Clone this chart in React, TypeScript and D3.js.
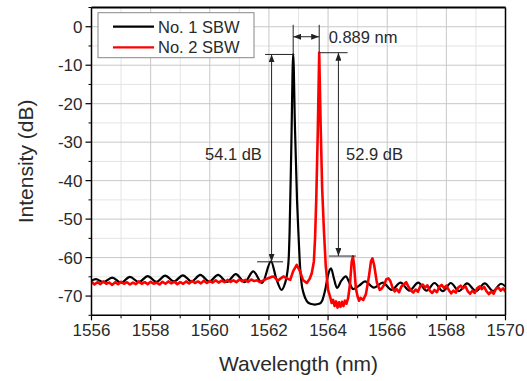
import React from 'react';
import * as d3 from 'd3';

const xMajorTicks = [1556, 1558, 1560, 1562, 1564, 1566, 1568, 1570];
const xMinorTicks = [1557, 1559, 1561, 1563, 1565, 1567, 1569];
const yMajorTicks = [0, -10, -20, -30, -40, -50, -60, -70];
const yMinorTicks = [5, -5, -15, -25, -35, -45, -55, -65, -75];
const seriesNames = ['No. 1 SBW', 'No. 2 SBW'];
const seriesColors = ['#000000', '#ff0000'];

const sbw1: [number, number][] = [
  [1556.0, -66.0], [1556.15, -65.6], [1556.4, -66.4], [1556.7, -65.2], [1557.0, -66.5],
  [1557.3, -65.0], [1557.6, -66.4], [1557.9, -64.8], [1558.2, -66.3], [1558.49, -64.7],
  [1558.79, -66.2], [1559.09, -64.6], [1559.38, -66.2], [1559.68, -64.5], [1559.98, -66.2],
  [1560.28, -64.5], [1560.58, -66.3], [1560.88, -64.3], [1561.18, -66.4], [1561.47, -63.6],
  [1561.77, -66.6], [1562.07, -61.0], [1562.25, -65.5], [1562.43, -68.4], [1562.53, -67.0],
  [1562.62, -64.0], [1562.67, -60.0], [1562.70, -53.0], [1562.76, -30.0], [1562.82, -7.1],
  [1562.88, -26.0], [1562.95, -45.0], [1563.0, -54.0], [1563.05, -62.0], [1563.1, -66.5],
  [1563.18, -69.5], [1563.28, -71.3], [1563.4, -72.0], [1563.55, -72.2], [1563.7, -72.0],
  [1563.8, -71.2], [1563.9, -68.5], [1564.0, -64.5], [1564.1, -62.8], [1564.2, -65.5],
  [1564.3, -67.9], [1564.45, -66.0], [1564.6, -64.9], [1564.72, -66.5], [1564.85, -68.2],
  [1565.05, -67.3], [1565.25, -66.2], [1565.55, -67.8], [1565.85, -66.5], [1566.15, -68.4],
  [1566.45, -66.5], [1566.75, -68.6], [1567.05, -66.5], [1567.33, -68.6], [1567.6, -66.6],
  [1567.88, -68.7], [1568.15, -66.6], [1568.43, -68.7], [1568.7, -66.7], [1569.0, -68.7],
  [1569.3, -66.7], [1569.58, -68.7], [1569.85, -66.8], [1570.0, -67.5],
];

const sbw2: [number, number][] = [
  [1556.0, -66.3], [1556.1, -67.0], [1556.2, -66.4], [1556.3, -66.9], [1556.4, -66.2],
  [1556.5, -66.8], [1556.6, -66.5], [1556.7, -67.1], [1556.8, -66.4], [1556.9, -66.9],
  [1557.0, -66.3], [1557.1, -66.8], [1557.2, -66.4], [1557.3, -67.0], [1557.4, -66.5],
  [1557.5, -66.9], [1557.6, -66.2], [1557.7, -66.8], [1557.8, -66.4], [1557.9, -66.9],
  [1558.0, -66.3], [1558.1, -66.8], [1558.2, -66.5], [1558.3, -67.0], [1558.4, -66.3],
  [1558.5, -66.8], [1558.6, -66.2], [1558.7, -66.7], [1558.8, -66.3], [1558.9, -66.9],
  [1559.0, -66.4], [1559.1, -66.8], [1559.2, -66.2], [1559.3, -66.7], [1559.4, -66.1],
  [1559.5, -66.6], [1559.6, -66.2], [1559.7, -66.7], [1559.8, -66.0], [1559.9, -66.6],
  [1560.0, -66.1], [1560.1, -66.5], [1560.2, -65.9], [1560.3, -66.5], [1560.4, -66.0],
  [1560.5, -66.4], [1560.6, -65.8], [1560.7, -66.3], [1560.8, -65.9], [1560.9, -66.4],
  [1561.0, -65.7], [1561.1, -66.2], [1561.2, -65.8], [1561.3, -66.3], [1561.4, -65.7],
  [1561.5, -66.1], [1561.6, -65.9], [1561.7, -66.4], [1561.8, -66.0], [1561.9, -65.6],
  [1562.0, -65.3], [1562.1, -65.0], [1562.15, -64.9], [1562.2, -65.2], [1562.3, -66.0],
  [1562.4, -65.4], [1562.49, -64.9], [1562.6, -65.4], [1562.72, -65.8], [1562.82, -63.5],
  [1562.94, -61.9], [1563.05, -63.5], [1563.15, -65.8], [1563.28, -66.6], [1563.38, -65.5],
  [1563.45, -64.0], [1563.52, -61.0], [1563.56, -55.0], [1563.60, -45.0], [1563.65, -28.0],
  [1563.70, -6.75], [1563.75, -26.0], [1563.80, -42.0], [1563.86, -53.0], [1563.92, -62.0],
  [1564.0, -68.4], [1564.08, -70.5], [1564.12, -71.8], [1564.17, -71.0], [1564.22, -72.6],
  [1564.27, -71.4], [1564.32, -73.0], [1564.37, -71.6], [1564.42, -72.8], [1564.47, -71.5],
  [1564.52, -72.6], [1564.57, -71.2], [1564.62, -72.0], [1564.68, -70.5], [1564.74, -67.0],
  [1564.8, -61.0], [1564.84, -59.7], [1564.88, -62.0], [1564.94, -68.0], [1565.0, -70.2],
  [1565.05, -71.2], [1565.1, -70.5], [1565.19, -71.0], [1565.28, -69.5], [1565.38, -65.0],
  [1565.45, -61.0], [1565.5, -60.2], [1565.56, -62.0], [1565.65, -66.5], [1565.75, -68.4],
  [1565.82, -68.0], [1565.9, -67.0], [1565.97, -65.6], [1566.04, -65.4], [1566.1, -66.0],
  [1566.18, -67.8], [1566.25, -68.8], [1566.32, -68.2], [1566.4, -69.0], [1566.48, -67.5],
  [1566.56, -67.0], [1566.64, -66.4], [1566.72, -67.6], [1566.8, -68.5], [1566.88, -69.1],
  [1566.96, -68.3], [1567.04, -68.9], [1567.12, -67.4], [1567.2, -67.0], [1567.28, -67.8],
  [1567.36, -67.2], [1567.44, -68.6], [1567.52, -69.2], [1567.6, -68.4], [1567.68, -69.0],
  [1567.76, -67.6], [1567.84, -67.1], [1567.92, -67.9], [1568.0, -67.3], [1568.08, -68.4],
  [1568.16, -69.3], [1568.24, -68.6], [1568.32, -69.1], [1568.4, -67.8], [1568.48, -67.3],
  [1568.56, -68.0], [1568.64, -67.4], [1568.72, -68.7], [1568.8, -69.4], [1568.88, -68.6],
  [1568.96, -69.2], [1569.04, -68.0], [1569.12, -67.5], [1569.2, -68.2], [1569.28, -67.6],
  [1569.36, -68.8], [1569.44, -69.5], [1569.52, -68.8], [1569.6, -69.4], [1569.68, -68.1],
  [1569.76, -67.8], [1569.84, -68.6], [1569.92, -68.0], [1570.0, -68.9],
];

// annotation values (data units)
const peakWavelengths = [1562.82, 1563.70];
const peakLevels = [-7.2, -6.75];
const floorLevels = [-61.1, -59.6];
const arrowWavelengths = [1562.09, 1564.35];
const topBarRanges: [number, number][] = [[1561.87, 1562.86], [1563.73, 1564.66]];
const floorBarRanges: [number, number][] = [[1561.6, 1562.48], [1564.03, 1564.94]];
const ratioLabels = ['54.1 dB', '52.9 dB'];
const ratioLabelPos: [number, number][] = [[1560.8, -33.1], [1565.57, -33.1]];
const spacingLabel = '0.889 nm';
const spacingLevel = -2.6;
const spacingTop = 0.5;
const spacingLabelWl = 1564.02;

const W = 527, H = 381;
const M = { left: 91.5, right: 505.5, top: 7.5, bottom: 315.3 };
const FONT = '"Liberation Sans", Arial, sans-serif';
const TXT = '#2a2a2a';

export default function App() {
  const x = d3.scaleLinear().domain([1556, 1570]).range([M.left, M.right]);
  const y = d3.scaleLinear().domain([-75, 5]).range([M.bottom, M.top]);
  const smooth = d3.line<[number, number]>().x(d => x(d[0])).y(d => y(d[1])).curve(d3.curveMonotoneX);
  const noisy = d3.line<[number, number]>().x(d => x(d[0])).y(d => y(d[1]));
  const annColor = '#222';

  return (
    <svg width={W} height={H} style={{ position: 'fixed', left: 0, top: 0, background: '#fff' }} fontFamily={FONT}>
      <defs>
        <marker id="ah" viewBox="0 0 8 6" refX="8" refY="3" markerWidth="8" markerHeight="6" markerUnits="userSpaceOnUse" orient="auto-start-reverse">
          <path d="M0,0 L8,3 L0,6 z" fill={annColor} />
        </marker>
        <clipPath id="plot">
          <rect x={M.left} y={M.top} width={M.right - M.left} height={M.bottom - M.top} />
        </clipPath>
      </defs>
      <rect x={0} y={0} width={W} height={H} fill="#fff" />
      {/* minor grid */}
      {xMinorTicks.map(t => (
        <line key={'xm' + t} x1={x(t)} x2={x(t)} y1={M.top} y2={M.bottom} stroke="#e4e4e4" strokeWidth={1} />
      ))}
      {yMinorTicks.map(t => (
        <line key={'ym' + t} x1={M.left} x2={M.right} y1={y(t)} y2={y(t)} stroke="#e4e4e4" strokeWidth={1} />
      ))}
      {/* major grid */}
      {xMajorTicks.map(t => (
        <line key={'xg' + t} x1={x(t)} x2={x(t)} y1={M.top} y2={M.bottom} stroke="#c8c8c8" strokeWidth={1} />
      ))}
      {yMajorTicks.map(t => (
        <line key={'yg' + t} x1={M.left} x2={M.right} y1={y(t)} y2={y(t)} stroke="#c8c8c8" strokeWidth={1} />
      ))}

      {/* data */}
      <g clipPath="url(#plot)">
        <path d={smooth(sbw1) || ''} fill="none" stroke={seriesColors[0]} strokeWidth={2.2} strokeLinejoin="round" />
        <path d={noisy(sbw2) || ''} fill="none" stroke={seriesColors[1]} strokeWidth={2.6} strokeLinejoin="round" />
      </g>

      {/* annotations */}
      <g stroke={annColor} strokeWidth={1} fill="none">
        {topBarRanges.map((r, i) => (
          <line key={'tb' + i} x1={x(r[0])} x2={x(r[1])} y1={y(peakLevels[i])} y2={y(peakLevels[i])} />
        ))}
        {floorBarRanges.map((r, i) => (
          <line key={'fb' + i} x1={x(r[0])} x2={x(r[1])} y1={y(floorLevels[i])} y2={y(floorLevels[i])} />
        ))}
        {arrowWavelengths.map((w, i) => (
          <line key={'va' + i} x1={x(w)} x2={x(w)} y1={y(peakLevels[i])} y2={y(floorLevels[i])}
            markerStart="url(#ah)" markerEnd="url(#ah)" />
        ))}
        {peakWavelengths.map((w, i) => (
          <line key={'sp' + i} x1={x(w)} x2={x(w)} y1={y(spacingTop)} y2={y(peakLevels[i])} />
        ))}
        <line x1={x(peakWavelengths[0])} x2={x(peakWavelengths[1])} y1={y(spacingLevel)} y2={y(spacingLevel)}
          markerStart="url(#ah)" markerEnd="url(#ah)" />
      </g>
      <g fontSize={16.5} fill={TXT}>
        {ratioLabels.map((t, i) => (
          <text key={'rl' + i} x={x(ratioLabelPos[i][0])} y={y(ratioLabelPos[i][1])} dy="0.36em" textAnchor="middle">{t}</text>
        ))}
        <text x={x(spacingLabelWl)} y={y(spacingLevel)} dy="0.36em">{spacingLabel}</text>
      </g>

      {/* frame */}
      <line x1={M.left} x2={M.right} y1={M.top} y2={M.top} stroke="#000" strokeWidth={2} />
      <line x1={M.right} x2={M.right} y1={M.top} y2={M.bottom} stroke="#000" strokeWidth={1.5} />
      <line x1={M.left} x2={M.left} y1={M.top} y2={M.bottom} stroke="#000" strokeWidth={1.5} />
      <line x1={M.left} x2={M.right} y1={M.bottom} y2={M.bottom} stroke="#000" strokeWidth={1.5} />

      {/* axes ticks */}
      {xMajorTicks.map(t => (
        <g key={'xt' + t}>
          <line x1={x(t)} x2={x(t)} y1={M.bottom} y2={M.bottom + 5} stroke="#000" strokeWidth={1.2} />
          <text x={x(t)} y={M.bottom + 20.5} textAnchor="middle" fontSize={17} fill={TXT}>{t}</text>
        </g>
      ))}
      {xMinorTicks.map(t => (
        <line key={'xmt' + t} x1={x(t)} x2={x(t)} y1={M.bottom} y2={M.bottom + 3} stroke="#000" strokeWidth={1} />
      ))}
      {yMajorTicks.map(t => (
        <g key={'yt' + t}>
          <line x1={M.left - 6} x2={M.left} y1={y(t)} y2={y(t)} stroke="#000" strokeWidth={1.2} />
          <text x={M.left - 9} y={y(t)} dy="0.36em" textAnchor="end" fontSize={17} fill={TXT}>{t}</text>
        </g>
      ))}
      {yMinorTicks.map(t => (
        <line key={'ymt' + t} x1={M.left - 3} x2={M.left} y1={y(t)} y2={y(t)} stroke="#000" strokeWidth={1} />
      ))}

      {/* axis titles */}
      <text x={(M.left + M.right) / 2} y={371} textAnchor="middle" fontSize={21} fill={TXT}>Wavelength (nm)</text>
      <text transform={`translate(33, ${(M.top + M.bottom) / 2}) rotate(-90)`} textAnchor="middle" fontSize={21} fill={TXT}>Intensity (dB)</text>

      {/* legend */}
      <rect x={98} y={12.7} width={156} height={45} fill="#fff" stroke="#888" strokeWidth={1} />
      {seriesNames.map((n, i) => (
        <g key={n}>
          <line x1={113} x2={154} y1={26.7 + i * 20.6} y2={26.7 + i * 20.6} stroke={seriesColors[i]} strokeWidth={2.2} />
          <text x={158} y={32.5 + i * 20.6} fontSize={16.5} fill={TXT}>{n}</text>
        </g>
      ))}
    </svg>
  );
}
